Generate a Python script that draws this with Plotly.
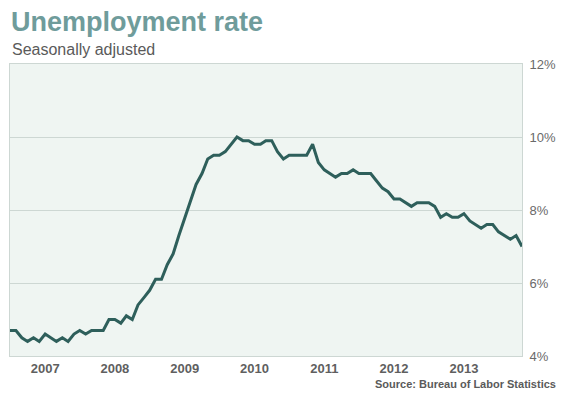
import plotly.graph_objects as go
import pandas as pd

months = pd.date_range("2006-07-01", "2013-11-01", freq="MS")
rate = [
    4.7, 4.7, 4.5, 4.4, 4.5, 4.4,
    4.6, 4.5, 4.4, 4.5, 4.4, 4.6, 4.7, 4.6, 4.7, 4.7, 4.7, 5.0,
    5.0, 4.9, 5.1, 5.0, 5.4, 5.6, 5.8, 6.1, 6.1, 6.5, 6.8, 7.3,
    7.8, 8.3, 8.7, 9.0, 9.4, 9.5, 9.5, 9.6, 9.8, 10.0, 9.9, 9.9,
    9.8, 9.8, 9.9, 9.9, 9.6, 9.4, 9.5, 9.5, 9.5, 9.5, 9.8, 9.3,
    9.1, 9.0, 8.9, 9.0, 9.0, 9.1, 9.0, 9.0, 9.0, 8.8, 8.6, 8.5,
    8.3, 8.3, 8.2, 8.1, 8.2, 8.2, 8.2, 8.1, 7.8, 7.9, 7.8, 7.8,
    7.9, 7.7, 7.6, 7.5, 7.6, 7.6, 7.4, 7.3, 7.2, 7.3, 7.0,
]
year_ticks = ["2007-01-01", "2008-01-01", "2009-01-01", "2010-01-01",
              "2011-01-01", "2012-01-01", "2013-01-01"]
year_labels = ["<b>2007</b>", "<b>2008</b>", "<b>2009</b>", "<b>2010</b>",
               "<b>2011</b>", "<b>2012</b>", "<b>2013</b>"]
y_ticks = [4, 6, 8, 10, 12]
y_labels = ["4%", "6%", "8%", "10%", "12%"]

FONT = "Liberation Sans, Arial, sans-serif"

fig = go.Figure()
fig.add_trace(go.Scatter(
    x=months, y=rate, mode="lines",
    line=dict(color="#2e5f5b", width=3),
    hoverinfo="skip",
))

# page body has an 8px margin, so the figure is sized/offset to compensate
fig.update_layout(
    width=561, height=390,
    margin=dict(l=2, r=47, t=56, b=42),
    paper_bgcolor="white",
    plot_bgcolor="#eff5f2",
    showlegend=False,
    font=dict(family=FONT, color="#666666"),
    xaxis=dict(
        range=[months[0], months[-1]],
        tickvals=year_ticks, ticktext=year_labels,
        tickfont=dict(size=13, color="#5f5f5f", family=FONT),
        showgrid=False, zeroline=False,
        showline=True, linecolor="#cdd7d3", linewidth=1, mirror=True,
        ticks="", ticklabelstandoff=0,
    ),
    yaxis=dict(
        side="right", range=[4, 12],
        tickvals=y_ticks, ticktext=y_labels,
        tickfont=dict(size=13, color="#6a6a6a", family=FONT),
        showgrid=True, gridcolor="#cdd7d3", gridwidth=1,
        zeroline=False,
        showline=True, linecolor="#cdd7d3", linewidth=1, mirror=True,
        ticks="", ticklabelstandoff=4,
    ),
    annotations=[
        dict(text="<b>Unemployment rate</b>", xref="paper", yref="paper",
             x=0, y=1, xanchor="left", yanchor="bottom",
             yshift=25, xshift=-1, showarrow=False,
             font=dict(size=27, color="#6f9c9b", family=FONT)),
        dict(text="Seasonally adjusted", xref="paper", yref="paper",
             x=0, y=1, xanchor="left", yanchor="bottom",
             yshift=4, showarrow=False,
             font=dict(size=16, color="#5a5a5a", family=FONT)),
        dict(text="<b>Source: Bureau of Labor Statistics</b>", xref="paper", yref="paper",
             x=1, y=0, xanchor="right", yanchor="top",
             xshift=36, yshift=-20, showarrow=False,
             font=dict(size=11, color="#5a5a5a", family=FONT)),
    ],
)

fig.write_html("out.html")
